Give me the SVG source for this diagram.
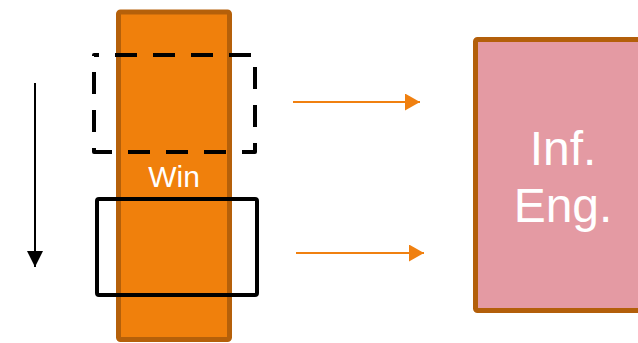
<svg xmlns="http://www.w3.org/2000/svg" width="638" height="343" viewBox="0 0 638 343">
<style>
.lbl{font-family:"Liberation Sans",Arial,sans-serif;fill:#ffffff;text-anchor:middle}
.oarr{stroke:#F08010;stroke-width:2;fill:none}
</style>
<defs>
<marker id="ah-o" markerUnits="userSpaceOnUse" markerWidth="16" markerHeight="17" refX="15" refY="8.5" orient="auto">
<path d="M0,0 L15,8.5 L0,17 Z" fill="#F08010"/>
</marker>
<marker id="ah-k" markerUnits="userSpaceOnUse" markerWidth="17" markerHeight="17" refX="16" refY="8" orient="auto">
<path d="M0,0 L16,8 L0,16 Z" fill="#000"/>
</marker>
</defs>
<rect width="638" height="343" fill="#ffffff"/>
<g id="win">
<rect x="118.5" y="12" width="111" height="327.5" rx="2" fill="#F0800C" stroke="#B5600A" stroke-width="5"/>
<text class="lbl" x="174" y="187" font-size="30">Win</text>
</g>
<g id="window-prev">
<path d="M94,55 H255 V152 H94 Z" fill="none" stroke="#000" stroke-width="4" stroke-linejoin="round" stroke-dasharray="22,16" stroke-dashoffset="17"/>
</g>
<g id="window-cur">
<rect x="97" y="199" width="160" height="96" rx="2" fill="none" stroke="#000" stroke-width="4"/>
</g>
<g id="inf-eng">
<rect x="475.5" y="39.5" width="170" height="271" rx="2" fill="#E49AA3" stroke="#B35F0A" stroke-width="5"/>
<text class="lbl" x="563" y="165" font-size="48">Inf.</text>
<text class="lbl" x="563" y="222" font-size="48">Eng.</text>
</g>
<g id="connectors">
<line class="oarr" x1="293" y1="102" x2="420" y2="102" marker-end="url(#ah-o)"/>
<line class="oarr" x1="296" y1="253" x2="424" y2="253" marker-end="url(#ah-o)"/>
<line x1="35" y1="83" x2="35" y2="267" stroke="#000" stroke-width="2" marker-end="url(#ah-k)"/>
</g>
</svg>
